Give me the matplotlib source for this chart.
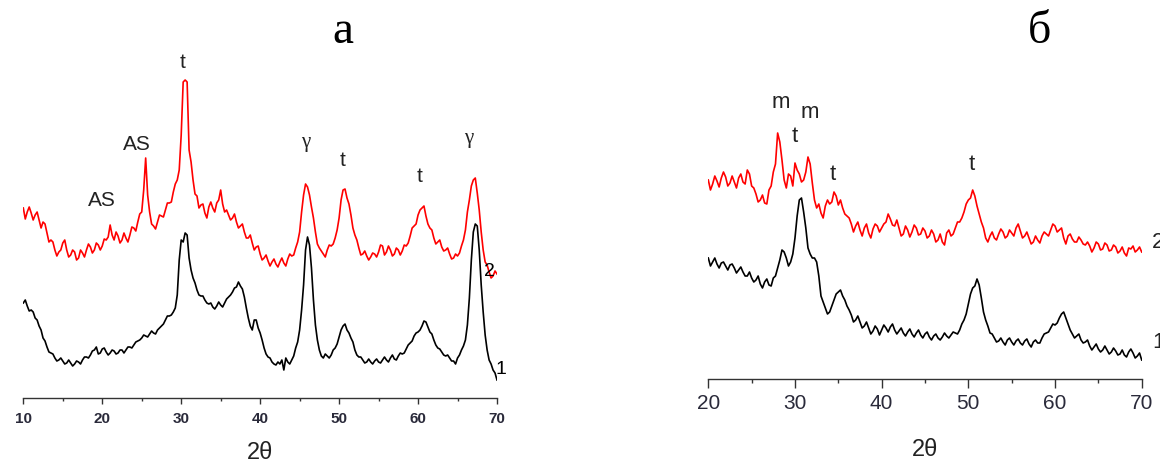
import numpy as np
import matplotlib
matplotlib.use("Agg")
import matplotlib.pyplot as plt

# ---------------- data (intensity, arbitrary units) ----------------
# Panel a: 2theta 10..70; readings every 0.5 deg plus in-between readings (x.25 / x.75)
theta_a = np.arange(10.0, 70.01, 0.5)
theta_a_mid = np.arange(10.25, 69.8, 0.5)
a_curve2 = [192, 188, 187, 185, 180, 178, 167, 160, 150, 148,
            157, 150, 145, 148, 142, 147, 150, 153, 150, 155,
            154, 160, 175, 160, 164, 160, 162, 165, 172, 178,
            188, 242, 188, 174, 178, 184, 190, 197, 208, 220,
            265, 320, 250, 220, 204, 195, 187, 193, 192, 197,
            210, 188, 185, 182, 178, 174, 168, 162, 157, 153,
            146, 142, 139, 138, 136, 138, 137, 141, 144, 152,
            168, 205, 213, 193, 168, 152, 146, 150, 154, 162,
            182, 210, 202, 185, 165, 152, 146, 144, 143, 146,
            148, 154, 148, 150, 146, 150, 149, 154, 164, 174,
            185, 192, 184, 172, 162, 158, 153, 150, 146, 142,
            144, 154, 170, 200, 220, 207, 168, 138, 128, 124,
            126]
a_curve2_mid = [181, 193, 180, 188, 172, 176, 158, 158, 144, 150,
                160, 143, 150, 140, 150, 143, 156, 147, 157, 150,
                161, 163, 165, 168, 157, 167, 158, 173, 169, 186,
                210, 205, 176, 171, 185, 183, 197, 198, 216, 230,
                318, 318, 238, 206, 192, 196, 182, 198, 188, 200,
                196, 190, 180, 186, 172, 176, 162, 165, 150, 154,
                140, 145, 134, 141, 133, 142, 134, 146, 145, 158,
                188, 216, 205, 182, 156, 149, 143, 155, 156, 170,
                200, 211, 196, 172, 160, 145, 149, 140, 147, 143,
                155, 145, 154, 144, 152, 145, 155, 157, 172, 176,
                190, 194, 176, 170, 156, 160, 149, 152, 141, 146,
                147, 160, 188, 214, 222, 190, 150, 135, 122, 129]
a_curve1 = [97, 94, 90, 82, 74, 62, 53, 47, 42, 40,
            39, 37, 37, 36, 38, 40, 43, 45, 50, 46,
            51, 48, 47, 49, 47, 50, 50, 53, 55, 59,
            62, 64, 66, 67, 70, 74, 80, 84, 88, 105,
            160, 167, 142, 122, 110, 104, 100, 96, 93, 94,
            95, 97, 103, 108, 113, 114, 103, 82, 70, 80,
            67, 52, 43, 38, 35, 36, 30, 38, 40, 52,
            70, 115, 163, 132, 75, 50, 42, 44, 45, 52,
            63, 74, 70, 62, 50, 43, 40, 38, 38, 39,
            38, 40, 40, 42, 41, 44, 46, 51, 57, 64,
            68, 74, 78, 68, 60, 52, 48, 44, 42, 39,
            42, 50, 60, 102, 168, 174, 115, 65, 40, 30,
            20]
a_curve1_mid = [100, 89, 88, 80, 70, 59, 48, 46, 39, 42,
                36, 40, 34, 39, 36, 43, 42, 49, 53, 47,
                52, 45, 50, 46, 50, 47, 53, 52, 58, 60,
                65, 63, 69, 66, 72, 76, 84, 85, 92, 140,
                158, 165, 130, 117, 105, 104, 97, 97, 91, 98,
                93, 101, 105, 112, 118, 111, 92, 74, 80, 72,
                60, 46, 42, 36, 38, 40, 42, 36, 44, 58,
                90, 150, 155, 100, 60, 44, 46, 42, 50, 56,
                70, 76, 67, 58, 45, 43, 37, 41, 36, 41,
                37, 43, 38, 45, 40, 47, 47, 55, 59, 67,
                70, 79, 73, 66, 55, 51, 45, 45, 39, 36,
                45, 54, 75, 140, 176, 150, 88, 50, 36, 27]

# Panel б: 2theta 20..70
theta_b = np.arange(20.0, 70.01, 0.5)
theta_b_mid = np.arange(20.25, 69.8, 0.5)
b_curve2 = [220, 216, 219, 222, 223, 217, 218, 222, 218, 230,
            214, 206, 200, 197, 210, 228, 267, 240, 212, 224,
            237, 226, 220, 243, 217, 192, 187, 194, 196, 208,
            195, 192, 184, 176, 174, 170, 172, 167, 171, 174,
            172, 178, 181, 174, 172, 166, 170, 168, 172, 166,
            169, 164, 166, 160, 158, 167, 164, 172, 178, 188,
            200, 210, 194, 178, 162, 164, 162, 166, 168, 164,
            167, 172, 169, 164, 162, 158, 160, 164, 166, 170,
            174, 170, 162, 164, 161, 158, 160, 155, 154, 152,
            156, 151, 155, 150, 153, 149, 147, 152, 154, 150,
            148]
b_curve2_mid = [210, 224, 213, 228, 214, 224, 212, 226, 216, 226,
                212, 198, 205, 196, 214, 236, 258, 220, 226, 214,
                230, 218, 228, 236, 200, 196, 182, 200, 198, 204,
                200, 186, 182, 168, 178, 164, 176, 162, 176, 168,
                176, 186, 175, 180, 164, 174, 163, 175, 165, 172,
                162, 170, 158, 166, 155, 170, 166, 178, 182, 196,
                202, 204, 186, 172, 158, 168, 160, 171, 162, 170,
                164, 176, 162, 168, 156, 164, 157, 168, 164, 176,
                168, 172, 156, 166, 158, 163, 156, 158, 148, 158,
                150, 157, 149, 155, 147, 153, 144, 151, 148, 153]
b_curve1 = [142, 138, 136, 137, 134, 135, 132, 130, 128, 124,
            122, 120, 116, 118, 115, 122, 132, 150, 142, 138,
            162, 200, 188, 152, 142, 138, 104, 92, 88, 100,
            108, 104, 94, 85, 80, 78, 74, 72, 69, 71,
            70, 72, 73, 70, 69, 67, 68, 66, 67, 65,
            66, 63, 64, 62, 63, 64, 65, 67, 70, 80,
            96, 112, 121, 102, 80, 67, 62, 59, 58, 60,
            58, 59, 57, 59, 56, 58, 57, 62, 67, 72,
            75, 82, 88, 76, 66, 64, 60, 58, 54, 53,
            51, 50, 50, 48, 49, 46, 45, 48, 47, 44,
            40]
b_curve1_mid = [134, 142, 132, 138, 130, 136, 127, 133, 124, 128,
                118, 124, 112, 121, 114, 124, 140, 148, 134, 146,
                184, 202, 172, 146, 142, 124, 98, 86, 94, 106,
                110, 100, 90, 78, 84, 72, 78, 66, 74, 65,
                75, 68, 76, 66, 72, 64, 71, 63, 70, 62,
                68, 60, 66, 60, 67, 62, 68, 66, 76, 86,
                106, 114, 115, 88, 74, 66, 58, 62, 55, 62,
                55, 61, 55, 61, 53, 60, 57, 66, 68, 76,
                77, 86, 82, 70, 62, 66, 57, 60, 50, 56,
                48, 54, 46, 52, 45, 50, 43, 51, 42, 47]

ticks_a = [10, 20, 30, 40, 50, 60, 70]
ticks_b = [20, 30, 40, 50, 60, 70]
labels_a = [("AS", 19.9, 200), ("AS", 24.35, 256), ("t", 30.18, 338),
            ("γ", 45.78, 257), ("t", 50.43, 239), ("t", 60.13, 224),
            ("γ", 66.46, 262)]
labels_b = [("m", 28.39, 297), ("m", 31.73, 287), ("t", 30.0, 263),
            ("t", 34.35, 226), ("t", 50.38, 235)]


def merge(x_main, y_main, x_mid, y_mid):
    """Interleave the main readings with the in-between readings."""
    n = len(x_main) + len(x_mid)
    x = np.empty(n)
    y = np.empty(n)
    x[0::2], x[1::2] = x_main, x_mid
    y[0::2], y[1::2] = y_main, y_mid
    return x, y


# ---------------- figure ----------------
W, H = 1160, 463
fig = plt.figure(figsize=(W / 100, H / 100), dpi=100)

sans = ["Liberation Sans", "DejaVu Sans"]
serif = ["Liberation Serif", "DejaVu Serif"]
txt_col = "#222222"
axis_col = "#333333"
LW = 1.2


def setup(ax, ticks, fs, bold, pad, majlen):
    for s in ("left", "right", "top"):
        ax.spines[s].set_visible(False)
    ax.spines["bottom"].set_color(axis_col)
    ax.spines["bottom"].set_linewidth(1.0)
    ax.set_yticks([])
    ax.set_xticks(ticks)
    ax.set_xticklabels([str(t) for t in ticks], fontsize=fs,
                       fontweight="bold" if bold else "normal",
                       family=sans, color="#2a2a3a")
    ax.set_xticks(np.arange(ticks[0] + 5, ticks[-1], 10), minor=True)
    ax.tick_params(axis="x", which="major", direction="out", length=majlen,
                   width=1.0, color=axis_col, pad=pad)
    ax.tick_params(axis="x", which="minor", direction="out", length=majlen * 0.45,
                   width=1.0, color=axis_col)
    ax.patch.set_alpha(0)


# Panel a
axA = fig.add_axes([23.3 / W, 65 / H, (497 - 23.3) / W, 398 / H])
x, y = merge(theta_a, a_curve2, theta_a_mid, a_curve2_mid)
axA.plot(x, y, color="#ff0000", lw=LW)
x, y = merge(theta_a, a_curve1, theta_a_mid, a_curve1_mid)
axA.plot(x, y, color="black", lw=LW)
axA.set_xlim(10, 70)
axA.set_ylim(2, 400)
setup(axA, ticks_a, 11, True, 5.5, 4.5)
for t, xx, yy in labels_a:
    fam = serif if t == "γ" else sans
    axA.text(xx, yy, t, ha="center", va="center", fontsize=15, family=fam,
             color=txt_col, clip_on=False)
axA.text(68.99, 128, "2", ha="center", va="center", fontsize=14,
         family=sans, color="black", clip_on=False)
axA.text(70.56, 30, "1", ha="center", va="center", fontsize=14,
         family=sans, color="black", clip_on=False)

# Panel б
axB = fig.add_axes([708.3 / W, (H - 379.3) / H, (1141.7 - 708.3) / W, 379.3 / H])
x, y = merge(theta_b, b_curve2, theta_b_mid, b_curve2_mid)
axB.plot(x, y, color="#ff0000", lw=LW)
x, y = merge(theta_b, b_curve1, theta_b_mid, b_curve1_mid)
axB.plot(x, y, color="black", lw=LW)
axB.set_xlim(20, 70)
axB.set_ylim(20.7, 400)
setup(axB, ticks_b, 15, False, 4, 6.5)
for t, xx, yy in labels_b:
    axB.text(xx, yy, t, ha="center", va="center", fontsize=16, family=sans,
             color=txt_col, clip_on=False)
axB.text(71.18, 157, "2", ha="left", va="center", fontsize=16,
         family=sans, color=txt_col, clip_on=False)
axB.text(71.18, 57, "1", ha="left", va="center", fontsize=16,
         family=sans, color=txt_col, clip_on=False)

# axis titles
fig.text(260 / W, 1 - 453 / H, "2θ", ha="center", va="center",
         fontsize=17, family=sans, color=txt_col)
fig.text(925 / W, 1 - 450 / H, "2θ", ha="center", va="center",
         fontsize=17, family=sans, color=txt_col)

# panel titles
fig.text(343 / W, 1 - 43 / H, "a", ha="center", va="baseline",
         fontsize=34, family=serif, color="black")
fig.text(1040 / W, 1 - 43 / H, "б", ha="center", va="baseline",
         fontsize=33, family=serif, color="black")

fig.savefig("out.png", dpi=100)
